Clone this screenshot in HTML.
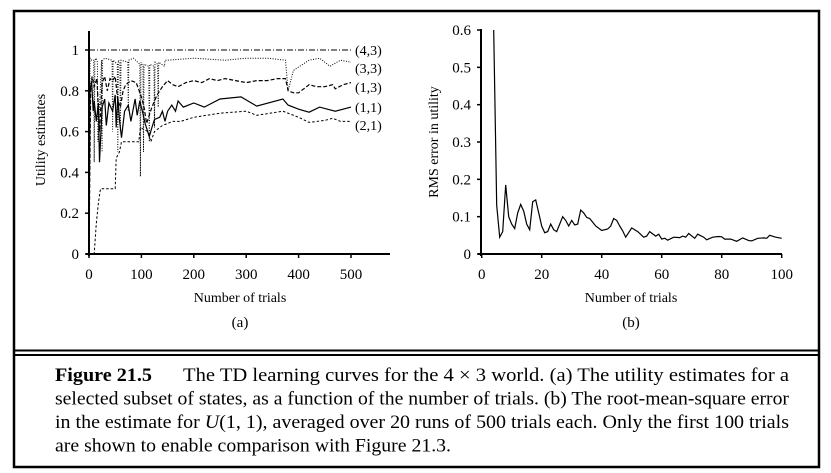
<!DOCTYPE html>
<html><head><meta charset="utf-8"><style>
html,body{margin:0;padding:0;background:#fff;}
body{width:831px;height:473px;position:relative;overflow:hidden;font-family:"Liberation Serif",serif;}
svg text{font-family:"Liberation Serif",serif;fill:#000;}
</style></head><body>
<svg id="fig" width="831" height="473" style="position:absolute;left:0;top:0">
<rect x="14" y="11" width="805" height="456" fill="none" stroke="#000" stroke-width="2.5"/>
<line x1="14" x2="819" y1="350.5" y2="350.5" stroke="#000" stroke-width="2"/>
<line x1="14" x2="819" y1="355" y2="355" stroke="#000" stroke-width="2"/>
<g id="chartA"></g>
<g id="chartB"></g>
<g font-size="18.5">
<text x="55" y="381" textLength="97" lengthAdjust="spacingAndGlyphs" font-weight="bold">Figure 21.5</text>
<text x="183" y="381" textLength="606" lengthAdjust="spacingAndGlyphs">The TD learning curves for the 4 × 3 world. (a) The utility estimates for a</text>
<text x="55" y="404.5" textLength="734" lengthAdjust="spacingAndGlyphs">selected subset of states, as a function of the number of trials. (b) The root-mean-square error</text>
<text x="55" y="428" textLength="734" lengthAdjust="spacingAndGlyphs">in the estimate for <tspan font-style="italic">U</tspan>(1, 1), averaged over 20 runs of 500 trials each. Only the first 100 trials</text>
<text x="55" y="451.5" textLength="396" lengthAdjust="spacingAndGlyphs">are shown to enable comparison with Figure 21.3.</text>
</g>
</svg>
<script>
// ---- Chart A data ----
const aTicksX=[0,100,200,300,400,500];
const aTicksY=[0,0.2,0.4,0.6,0.8,1];
const aTickLabelsY=["0","0.2","0.4","0.6","0.8","1"];
const s43x=[0,500];
const s43y=[1,1];
const s33x=[0,2,5,9,10,11,14,16,17,24,25,26,30,44,45,46,54,55,56,59,60,61,74,75,76,85,97,98,99,103,104,105,114,115,116,124,125,126,131,132,133,144,145,150,200,260,300,340,375,380,390,420,440,460,480,500];
const s33y=[0,0.96,0.95,0.95,0.45,0.95,0.96,0.94,0.55,0.95,0.5,0.95,0.96,0.95,0.6,0.95,0.93,0.5,0.95,0.94,0.6,0.95,0.94,0.7,0.95,0.96,0.93,0.38,0.94,0.92,0.5,0.93,0.92,0.55,0.93,0.92,0.62,0.94,0.93,0.72,0.94,0.92,0.95,0.95,0.96,0.95,0.96,0.96,0.95,0.8,0.9,0.95,0.96,0.92,0.95,0.94];
const s13x=[0,3,6,10,15,20,25,30,35,40,45,50,55,60,65,70,80,90,100,105,110,120,130,140,150,160,170,185,200,215,230,245,260,280,300,320,340,360,375,380,390,400,410,420,435,450,465,470,485,500];
const s13y=[0,0.8,0.87,0.82,0.86,0.6,0.84,0.87,0.8,0.86,0.85,0.87,0.75,0.72,0.8,0.83,0.85,0.84,0.77,0.72,0.64,0.72,0.78,0.82,0.85,0.83,0.82,0.84,0.85,0.84,0.86,0.85,0.86,0.85,0.84,0.85,0.85,0.86,0.86,0.8,0.79,0.79,0.81,0.83,0.82,0.82,0.83,0.81,0.83,0.84];
const s11x=[0,2,5,8,10,14,18,20,25,30,33,38,45,50,52,55,58,62,68,75,80,88,92,97,102,107,112,115,120,125,135,140,145,150,158,165,170,180,200,220,250,290,310,320,370,380,400,420,440,455,470,500];
const s11y=[0,0.8,0.85,0.7,0.75,0.65,0.74,0.45,0.72,0.76,0.63,0.74,0.7,0.78,0.62,0.77,0.66,0.57,0.7,0.73,0.65,0.76,0.68,0.75,0.7,0.64,0.6,0.575,0.62,0.66,0.67,0.7,0.65,0.7,0.73,0.7,0.75,0.72,0.74,0.72,0.76,0.77,0.74,0.725,0.76,0.73,0.71,0.695,0.72,0.71,0.7,0.72];
const s21x=[0,10,14,18,22,50,52,58,62,75,95,98,112,118,125,140,160,175,200,250,300,320,370,400,420,450,465,480,500];
const s21y=[0,0,0.15,0.25,0.32,0.32,0.47,0.5,0.55,0.55,0.55,0.62,0.6,0.55,0.6,0.63,0.65,0.65,0.67,0.69,0.7,0.68,0.7,0.67,0.645,0.655,0.665,0.65,0.65];
const aLegend=["(4,3)","(3,3)","(1,3)","(1,1)","(2,1)"];
// ---- Chart B data ----
const bTicksX=[0,20,40,60,80,100];
const bTicksY=[0,0.1,0.2,0.3,0.4,0.5,0.6];
const bTickLabelsY=["0","0.1","0.2","0.3","0.4","0.5","0.6"];
const rmsX=[4,5,6,7,8,9,10,11,12,13,14,15,16,17,18,19,20,21,22,23,24,25,27,28,29,30,31,32,33,34,35,36,38,40,42,43,44,45,46,47,48,50,52,54,55,56,58,59,60,61,62,64,66,67,68,69,71,72,74,75,77,79,80,81,83,85,87,89,90,92,94,95,96,98,100];
const rmsY=[0.6,0.13,0.045,0.06,0.185,0.1,0.08,0.068,0.11,0.133,0.115,0.08,0.065,0.14,0.145,0.11,0.075,0.057,0.06,0.08,0.065,0.06,0.1,0.09,0.075,0.09,0.078,0.08,0.118,0.11,0.098,0.095,0.075,0.063,0.067,0.075,0.095,0.09,0.075,0.062,0.045,0.07,0.06,0.045,0.048,0.06,0.048,0.053,0.04,0.042,0.037,0.045,0.044,0.048,0.045,0.055,0.042,0.053,0.045,0.038,0.045,0.047,0.046,0.04,0.04,0.034,0.043,0.036,0.035,0.042,0.043,0.042,0.05,0.045,0.042];

const NS="http://www.w3.org/2000/svg";
function mk(tag,attrs,parent,text){const e=document.createElementNS(NS,tag);for(const k in attrs)e.setAttribute(k,attrs[k]);if(text!==undefined)e.textContent=text;parent.appendChild(e);return e;}

// Chart A
const A=document.getElementById('chartA');
const ax=v=>89+v*0.524, ay=v=>254-v*204;
let e;
e=mk('line',{x1:89,x2:89,y1:31,y2:256,stroke:'#000','stroke-width':2},A);


e=mk('line',{x1:86,x2:390,y1:254,y2:254,stroke:'#000','stroke-width':2},A);


aTicksX.forEach(t=>{
 mk('line',{x1:ax(t),x2:ax(t),y1:254,y2:258,stroke:'#000','stroke-width':1.5},A);
 e=mk('text',{x:ax(t),y:279,'font-size':15,'text-anchor':'middle'},A,String(t));
 
 
});
aTicksY.forEach((t,i)=>{
 mk('line',{x1:85,x2:89,y1:ay(t),y2:ay(t),stroke:'#000','stroke-width':1.5},A);
 e=mk('text',{x:79,y:ay(t)+5,'font-size':15,'text-anchor':'end'},A,aTickLabelsY[i]);
 
 
});
e=mk('text',{x:0,y:0,'font-size':14,'text-anchor':'middle',transform:'translate(45,140) rotate(-90)'},A,'Utility estimates');


e=mk('text',{x:240,y:302,'font-size':14,'text-anchor':'middle'},A,'Number of trials');


e=mk('text',{x:240,y:327,'font-size':15,'text-anchor':'middle'},A,'(a)');


function pl(xs,ys,fx,fy,dash,w,g,name){
 const pts=xs.map((x,i)=>fx(x).toFixed(1)+','+fy(ys[i]).toFixed(1)).join(' ');
 const p=mk('polyline',{points:pts,fill:'none',stroke:'#000','stroke-width':w,'stroke-dasharray':dash},g);
 
 
}
pl(s43x,s43y,ax,ay,'6,2,1,2',1,A,'series-4-3');
pl(s33x,s33y,ax,ay,'1,1.5',1,A,'series-3-3');
pl(s13x,s13y,ax,ay,'4,2',1.2,A,'series-1-3');
pl(s11x,s11y,ax,ay,'none',1.2,A,'series-1-1');
pl(s21x,s21y,ax,ay,'2.5,2',1,A,'series-2-1');
const legY=[55,73,92,112,130];
aLegend.forEach((l,i)=>{
 e=mk('text',{x:355,y:legY[i],'font-size':14},A,l);
 
 
});

// Chart B
const B=document.getElementById('chartB');
const bx=v=>481.7+v*3, by=v=>254-v*373.3;
e=mk('line',{x1:481,x2:481,y1:29,y2:256,stroke:'#000','stroke-width':2},B);


e=mk('line',{x1:478,x2:782,y1:254,y2:254,stroke:'#000','stroke-width':2},B);


bTicksX.forEach(t=>{
 mk('line',{x1:bx(t),x2:bx(t),y1:254,y2:258,stroke:'#000','stroke-width':1.5},B);
 e=mk('text',{x:bx(t),y:279,'font-size':15,'text-anchor':'middle'},B,String(t));
 
 
});
bTicksY.forEach((t,i)=>{
 mk('line',{x1:477,x2:481,y1:by(t),y2:by(t),stroke:'#000','stroke-width':1.5},B);
 e=mk('text',{x:471,y:by(t)+5,'font-size':15,'text-anchor':'end'},B,bTickLabelsY[i]);
 
 
});
e=mk('text',{x:0,y:0,'font-size':14,'text-anchor':'middle',transform:'translate(438,142) rotate(-90)'},B,'RMS error in utility');


e=mk('text',{x:631,y:302,'font-size':14,'text-anchor':'middle'},B,'Number of trials');


e=mk('text',{x:631,y:327,'font-size':15,'text-anchor':'middle'},B,'(b)');


pl(rmsX,rmsY,bx,by,'none',1.2,B,'rms-error-line');
</script>
</body></html>
